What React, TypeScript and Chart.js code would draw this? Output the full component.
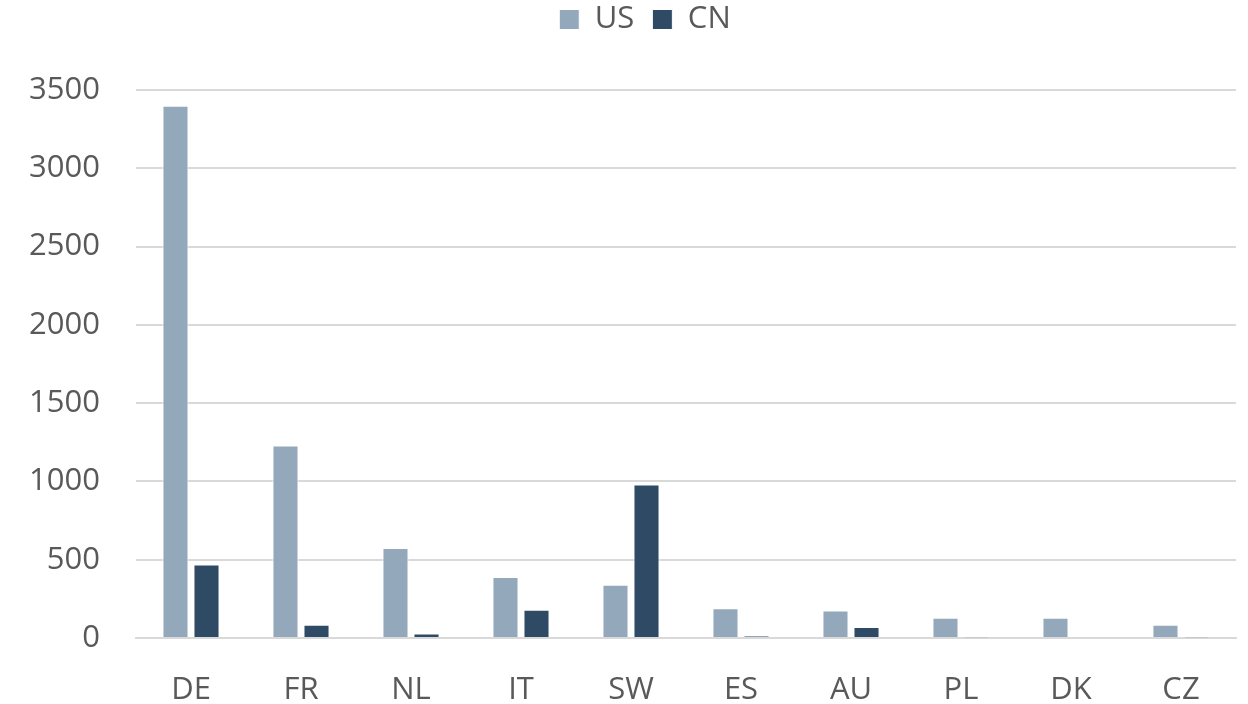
import React, { useEffect, useRef } from "react";
import { Chart, registerables } from "chart.js";

Chart.register(...registerables);

const categories = ["DE", "FR", "NL", "IT", "SW", "ES", "AU", "PL", "DK", "CZ"];
const usValues = [3400, 1230, 575, 390, 340, 190, 175, 130, 130, 85];
const cnValues = [470, 85, 28, 180, 980, 12, 70, 3, 6, 2];
const yTicks = [0, 500, 1000, 1500, 2000, 2500, 3000, 3500];

export default function App() {
  const ref = useRef<HTMLCanvasElement | null>(null);
  useEffect(() => {
    document.body.style.margin = "0";
    const ctx = ref.current!;
    const font = "'Open Sans', sans-serif";
    const legendTweak = {
      id: "legendTweak",
      beforeInit(chart: any) {
        const legend = chart.legend;
        if (!legend) return;
        const origFit = legend.fit;
        legend.fit = function () {
          origFit.call(this);
          this.height = 106;
        };
        const origDraw = legend.draw;
        legend.draw = function (...args: any[]) {
          const c = chart.ctx;
          c.save();
          c.translate(27, 2);
          origDraw.apply(this, args);
          c.restore();
        };
      },
    };
    const chart = new Chart(ctx, {
      type: "bar",
      data: {
        labels: categories,
        datasets: [
          {
            label: "US",
            data: usValues,
            backgroundColor: "#94A8BC",
            borderColor: "#FFFFFF",
            borderWidth: 1,
            categoryPercentage: 0.564,
            barPercentage: 0.84,
          },
          {
            label: "CN",
            data: cnValues,
            backgroundColor: "#2F4A65",
            borderColor: "#FFFFFF",
            borderWidth: 1,
            categoryPercentage: 0.564,
            barPercentage: 0.84,
          },
        ],
      },
      plugins: [legendTweak],
      options: {
        animation: false,
        responsive: false,
        layout: { padding: { left: 0, right: 12, top: -16, bottom: 0 } },
        plugins: {
          legend: {
            position: "top",
            labels: {
              color: "#595959",
              font: { family: font, size: 31 },
              boxWidth: 20,
              boxHeight: 20,
              padding: 18,
            },
          },
          tooltip: { enabled: false },
        },
        scales: {
          x: {
            afterFit: (axis: any) => {
              axis.height = 66;
            },
            grid: { display: false },
            border: { color: "#D9D9D9", width: 2 },
            ticks: { color: "#595959", font: { family: font, size: 31 }, padding: 26 },
          },
          y: {
            min: 0,
            max: 3500,
            afterFit: (axis: any) => {
              axis.width = 136;
            },
            afterBuildTicks: (axis: any) => {
              axis.ticks = yTicks.map((v) => ({ value: v }));
            },
            grid: { color: "#D9D9D9", lineWidth: 2, drawTicks: false },
            border: { display: false },
            ticks: {
              color: "#595959",
              font: { family: font, size: 31 },
              padding: 36,
              callback: (v: any) => String(v),
            },
          },
        },
      },
    });
    return () => chart.destroy();
  }, []);
  return <canvas ref={ref} width={1248} height={704} style={{ display: "block" }} />;
}
